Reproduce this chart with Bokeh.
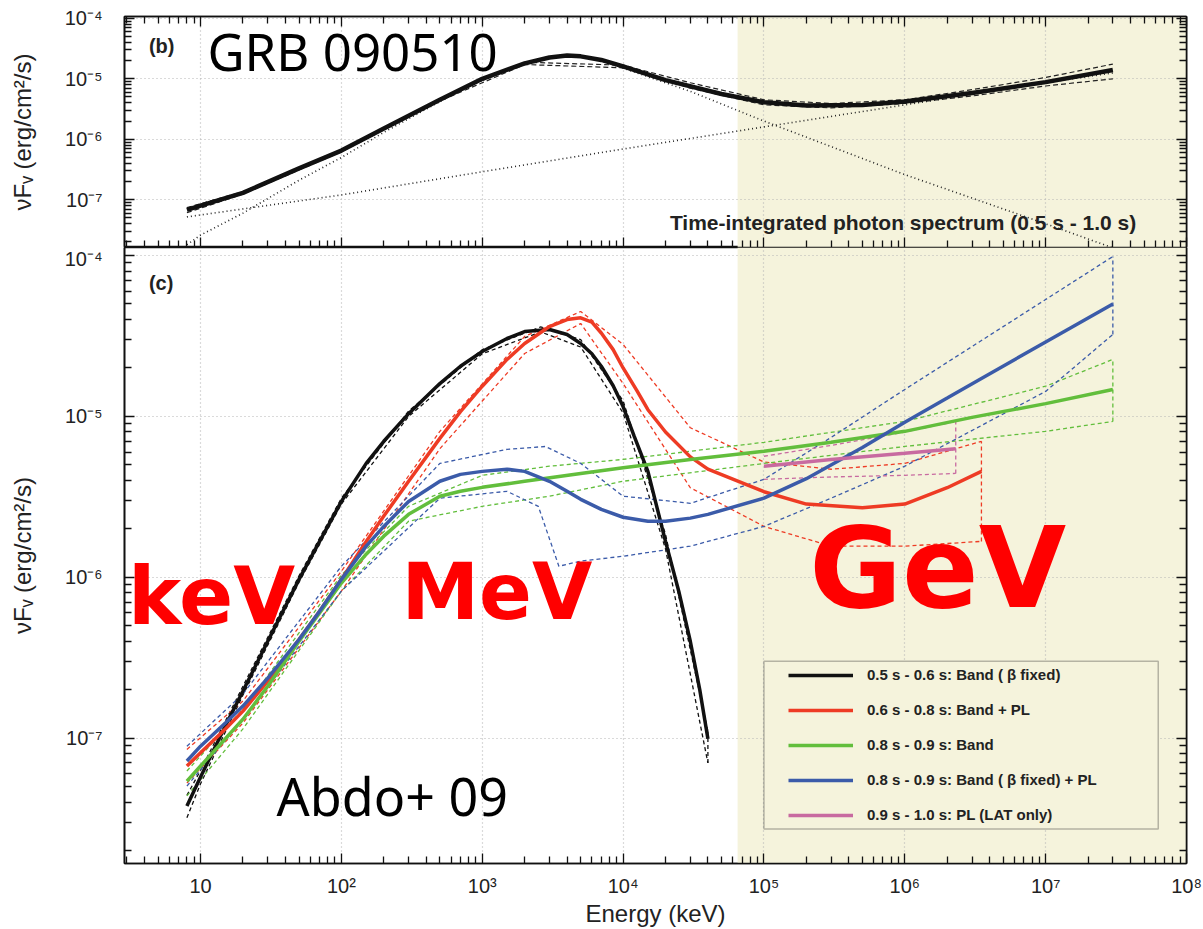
from bokeh.plotting import figure
from bokeh.layouts import column
from bokeh.models import (Range1d, LogAxis, FixedTicker, CustomJSTickFormatter,
                          BoxAnnotation, Label, Legend, LegendItem)
from bokeh.embed import file_html
from bokeh.resources import INLINE

# ---------------- tick labels ----------------
x_major = [1e1, 1e2, 1e3, 1e4, 1e5, 1e6, 1e7, 1e8]
x_tick_labels = ["10", "10²", "10³", "10⁴", "10⁵", "10⁶", "10⁷", "10⁸"]
y_major = [1e-7, 1e-6, 1e-5, 1e-4]
y_tick_labels = ["10⁻⁷", "10⁻⁶", "10⁻⁵", "10⁻⁴"]

# ---------------- panel (b): time-integrated spectrum ----------------
b_energy = [8, 10, 20, 50, 100, 200, 500, 1000, 2000, 3000, 4000, 5000, 7000, 1e4, 2e4,
            5e4, 1e5, 2e5, 5e5, 1e6, 3e6, 1e7, 3e7]
b_total = [6.8e-8, 8.0e-8, 1.3e-7, 3.3e-7, 6.5e-7, 1.5e-6, 4.5e-6, 1.0e-5, 1.8e-5,
           2.25e-5, 2.42e-5, 2.35e-5, 2.05e-5, 1.6e-5, 9.5e-6, 5.6e-6, 4.1e-6, 3.6e-6,
           3.7e-6, 4.2e-6, 5.8e-6, 8.8e-6, 1.4e-5]
b_err_energy = [8, 20, 100, 500, 2000, 1e4, 3e4, 1e5, 3e5, 1e6, 3e6, 1e7, 3e7]
b_upper = [7.4e-8, 1.36e-7, 6.8e-7, 4.7e-6, 1.88e-5, 1.68e-5, 8.6e-6, 4.5e-6, 3.9e-6,
           4.5e-6, 6.6e-6, 1.05e-5, 1.75e-5]
b_lower = [6.1e-8, 1.24e-7, 6.2e-7, 4.3e-6, 1.72e-5, 1.52e-5, 7.0e-6, 3.7e-6, 3.3e-6,
           3.9e-6, 5.2e-6, 7.6e-6, 1.0e-5]
b_pl_energy = [8, 100, 1e3, 1e4, 1e5, 1e6, 1e7, 3e7]
b_pl = [5.2e-8, 1.2e-7, 2.9e-7, 6.9e-7, 1.6e-6, 3.7e-6, 8.6e-6, 1.25e-5]
b_band_energy = [8, 10, 20, 50, 100, 200, 500, 1000, 2000, 3000, 4000, 5000, 7000, 1e4,
                 3e4, 1e5, 1e6, 1e7, 3e7]
b_band = [1.8e-8, 2.6e-8, 6.0e-8, 2.1e-7, 5.0e-7, 1.3e-6, 4.2e-6, 9.6e-6, 1.75e-5,
          2.2e-5, 2.38e-5, 2.3e-5, 2.0e-5, 1.5e-5, 6.2e-6, 2.0e-6, 2.6e-7, 4.0e-8, 1.6e-8]

# ---------------- panel (c): time-resolved spectra ----------------
black_energy = [8, 10, 15, 20, 30, 50, 70, 100, 150, 200, 300, 500, 700, 1000, 1500,
                2000, 3000, 4000, 5000, 6000, 7000, 8500, 1e4, 1.2e4, 1.5e4, 2e4, 2.5e4,
                3e4, 3.5e4, 4e4]
black_flux = [3.78e-8, 5.73e-8, 1.19e-7, 1.96e-7, 4.0e-7, 9.7e-7, 1.67e-6, 2.96e-6,
              5.1e-6, 7.0e-6, 1.04e-5, 1.6e-5, 2.05e-5, 2.53e-5, 3.05e-5, 3.37e-5,
              3.47e-5, 3.23e-5, 2.84e-5, 2.45e-5, 2.05e-5, 1.55e-5, 1.15e-5, 7.5e-6,
              4.55e-6, 1.67e-6, 8.0e-7, 4.0e-7, 2.0e-7, 9.9e-8]
black_err_energy = [8, 10, 20, 50, 100, 300, 1000, 2600, 5000, 1e4, 2e4, 4e4]
black_upper = [4.4e-8, 6.3e-8, 2.1e-7, 1.02e-6, 3.1e-6, 1.08e-5, 2.6e-5, 3.6e-5, 3.0e-5,
               1.25e-5, 1.85e-6, 1.1e-7]
black_lower = [3.2e-8, 5.2e-8, 1.85e-7, 9.3e-7, 2.85e-6, 1.0e-5, 2.45e-5, 3.35e-5, 2.7e-5,
               1.05e-5, 1.5e-6, 7.0e-8]

red_energy = [8, 10, 15, 20, 30, 50, 70, 100, 150, 200, 300, 500, 700, 1000, 1500, 2000,
              3000, 4000, 5000, 6000, 7000, 8500, 1e4, 1.25e4, 1.5e4, 2e4, 3e4, 4e4, 1e5,
              2e5, 5e5, 1e6, 2e6, 3.5e6]
red_flux = [6.7e-8, 8.1e-8, 1.14e-7, 1.47e-7, 2.26e-7, 4.1e-7, 6.15e-7, 9.7e-7, 1.67e-6,
            2.4e-6, 3.95e-6, 7.3e-6, 1.07e-5, 1.54e-5, 2.26e-5, 2.84e-5, 3.62e-5, 4.0e-5,
            4.1e-5, 3.85e-5, 3.3e-5, 2.6e-5, 2.0e-5, 1.45e-5, 1.1e-5, 8.0e-6, 5.6e-6,
            4.7e-6, 3.4e-6, 2.85e-6, 2.7e-6, 2.85e-6, 3.6e-6, 4.55e-6]
red_err_energy = [8, 20, 100, 500, 2000, 5000, 1e4, 3e4, 1e5, 3e5, 1e6, 3.5e6]
red_upper = [8.5e-8, 1.7e-7, 1.09e-6, 8.07e-6, 3.14e-5, 4.49e-5, 2.8e-5, 8.5e-6,
             5.2e-6, 4.69e-6, 5.1e-6, 7.0e-6]
red_lower = [5.25e-8, 1.24e-7, 8.2e-7, 6.3e-6, 2.46e-5, 3.78e-5, 1.6e-5, 3.6e-6,
             2.07e-6, 1.56e-6, 1.56e-6, 1.67e-6]

green_energy = [8, 10, 15, 20, 30, 50, 70, 100, 150, 200, 300, 500, 700, 1000, 2000, 5000,
                1e4, 3e4, 1e5, 3e5, 1e6, 3e6, 1e7, 3e7]
green_flux = [5.4e-8, 6.7e-8, 9.9e-8, 1.31e-7, 2.1e-7, 4.0e-7, 6.0e-7, 9.2e-7, 1.39e-6,
              1.8e-6, 2.46e-6, 3.19e-6, 3.42e-6, 3.62e-6, 3.95e-6, 4.42e-6, 4.8e-6, 5.4e-6,
              6.07e-6, 6.9e-6, 8.07e-6, 9.86e-6, 1.2e-5, 1.47e-5]
green_err_energy = [8, 20, 100, 300, 1000, 3000, 1e4, 1e5, 1e6, 1e7, 3e7]
green_upper = [6.24e-8, 1.51e-7, 1.03e-6, 2.76e-6, 4.3e-6, 4.9e-6, 5.4e-6, 6.9e-6, 9.3e-6,
               1.54e-5, 2.26e-5]
green_lower = [4.37e-8, 1.14e-7, 8.2e-7, 2.23e-6, 2.76e-6, 3.19e-6, 3.95e-6, 5.1e-6,
               6.5e-6, 8.07e-6, 9.3e-6]

blue_energy = [8, 10, 15, 20, 30, 50, 70, 100, 150, 200, 300, 500, 700, 1000, 1500, 2000,
               3000, 4000, 5000, 7000, 1e4, 1.5e4, 2e4, 3e4, 4e4, 1e5, 2e5, 5e5, 1e6, 2e6,
               3.5e6, 1e7, 3e7]
blue_flux = [7.2e-8, 8.9e-8, 1.24e-7, 1.58e-7, 2.36e-7, 4.1e-7, 6.15e-7, 9.7e-7, 1.56e-6,
             2.07e-6, 2.96e-6, 3.95e-6, 4.36e-6, 4.55e-6, 4.69e-6, 4.55e-6, 3.95e-6,
             3.42e-6, 3.05e-6, 2.64e-6, 2.36e-6, 2.23e-6, 2.23e-6, 2.33e-6, 2.46e-6,
             3.1e-6, 4.1e-6, 6.4e-6, 9.2e-6, 1.3e-5, 1.72e-5, 2.9e-5, 5.0e-5]
blue_up_energy = [8, 20, 100, 500, 1500, 2800, 5000, 1e4, 3e4, 1e5, 3e5, 1e6, 1e7, 3e7]
blue_upper = [8.9e-8, 1.88e-7, 1.17e-6, 5.1e-6, 6.24e-6, 6.5e-6, 5.1e-6, 3.19e-6, 2.88e-6,
              4.06e-6, 7.4e-6, 1.47e-5, 5.33e-5, 9.86e-5]
blue_lo_energy = [8, 20, 100, 500, 1500, 2500, 3500, 5000, 1e4, 3e4, 1e5, 3e5, 1e6, 1e7, 3e7]
blue_lower = [5.03e-8, 1.31e-7, 8.2e-7, 3.1e-6, 3.42e-6, 2.76e-6, 1.17e-6, 1.26e-6,
              1.35e-6, 1.56e-6, 2.07e-6, 3.1e-6, 4.9e-6, 1.43e-5, 3.23e-5]

pink_energy = [1e5, 3e5, 1e6, 2.3e6]
pink_flux = [4.9e-6, 5.4e-6, 5.9e-6, 6.3e-6]
pink_upper = [5.65e-6, 6.6e-6, 8.0e-6, 9.3e-6]
pink_lower = [4.06e-6, 4.2e-6, 4.3e-6, 4.42e-6]

legend_labels = ["0.5 s - 0.6 s: Band ( β fixed)",
                 "0.6 s - 0.8 s: Band + PL",
                 "0.8 s - 0.9 s: Band",
                 "0.8 s - 0.9 s: Band ( β fixed) + PL",
                 "0.9 s - 1.0 s: PL (LAT only)"]

# ---------------- styling ----------------
BLACK, RED, GREEN, BLUE, PINK = "#111111", "#ee3b24", "#62be3c", "#3b5ba9", "#c86aa0"
SHADE = "#f5f3dc"
TXT = "#222222"
X_RANGE = (10 ** 0.46, 1e8)
B_YRANGE = (10 ** -7.79, 10 ** -3.97)
C_YRANGE = (10 ** -7.78, 10 ** -3.95)
LAT_START = 6.5e4

x_minor = [m * 10.0 ** k for k in range(0, 8) for m in range(2, 10)]
y_minor = [m * 10.0 ** k for k in range(-8, -3) for m in range(2, 10)]

JS = """
const lt = Math.log10(tick);
for (let i = 0; i < vals.length; i++) {
  if (Math.abs(Math.log10(vals[i]) - lt) < 1e-6) { return labels[i]; }
}
return "";
"""


def fmt(vals, labels):
    return CustomJSTickFormatter(args=dict(vals=vals, labels=labels), code=JS)


def style_axis(ax, dim, show_labels):
    if dim == "x":
        ax.ticker = FixedTicker(ticks=x_major, minor_ticks=x_minor)
        vals, labs = x_major, x_tick_labels
    else:
        ax.ticker = FixedTicker(ticks=y_major, minor_ticks=y_minor)
        vals, labs = y_major, y_tick_labels
    ax.major_tick_in = 10
    ax.major_tick_out = 0
    ax.minor_tick_in = 7
    ax.minor_tick_out = 0
    ax.axis_line_color = "#111111"
    ax.axis_line_width = 1.6
    ax.major_tick_line_color = "#111111"
    ax.major_tick_line_width = 1.3
    ax.minor_tick_line_color = "#111111"
    ax.minor_tick_line_width = 1.3
    if show_labels:
        ax.formatter = fmt(vals, labs)
        ax.major_label_text_font = "Liberation Sans"
        ax.major_label_text_font_size = "20px"
        ax.major_label_text_color = TXT
    else:
        ax.formatter = fmt(vals, ["" for _ in labs])
        ax.major_label_text_font_size = "0px"
        ax.major_label_standoff = 0


def make_fig(h, yr, top, bottom):
    p = figure(width=1203, height=h, x_axis_type="log", y_axis_type="log",
               x_range=Range1d(*X_RANGE), y_range=Range1d(*yr),
               output_backend="svg", toolbar_location=None,
               min_border_left=124, min_border_right=17,
               min_border_top=top, min_border_bottom=bottom,
               background_fill_color="white", border_fill_color="white",
               outline_line_color="#111111", outline_line_width=1.6)
    p.add_layout(BoxAnnotation(left=LAT_START, fill_color=SHADE, fill_alpha=1.0,
                               line_alpha=0, level="image"))
    for g in p.grid:
        g.grid_line_color = "#b5b5b5"
        g.grid_line_dash = "1 3"
        g.grid_line_width = 1.2
    p.xgrid.ticker = FixedTicker(ticks=x_major)
    p.ygrid.ticker = FixedTicker(ticks=y_major)
    left = p.yaxis[0]
    style_axis(left, "y", True)
    left.axis_label = "νFᵥ (erg/cm²/s)"
    left.axis_label_text_font = "Liberation Sans"
    left.axis_label_text_font_size = "24px"
    left.axis_label_text_font_style = "normal"
    left.axis_label_text_color = TXT
    left.major_label_standoff = 22
    left.axis_label_standoff = 26
    right = LogAxis()
    style_axis(right, "y", False)
    p.add_layout(right, "right")
    return p


# ---------------- panel (b) ----------------
p1 = make_fig(247, B_YRANGE, 16, 0)
style_axis(p1.xaxis[0], "x", False)
above = LogAxis()
style_axis(above, "x", False)
p1.add_layout(above, "above")

p1.line(b_pl_energy, b_pl, line_color="#222222", line_width=1.6, line_dash="1 3")
p1.line(b_band_energy, b_band, line_color="#222222", line_width=1.6, line_dash="1 3")
p1.line(b_err_energy, b_upper, line_color="#222222", line_width=1.2, line_dash="5 3")
p1.line(b_err_energy, b_lower, line_color="#222222", line_width=1.2, line_dash="5 3")
p1.line(b_energy, b_total, line_color=BLACK, line_width=4.5)

p1.add_layout(Label(x=4.3, y=10 ** -4.46, text="(b)", text_font="Liberation Sans",
                    text_font_size="20px", text_font_style="bold", text_color=TXT,
                    text_baseline="middle"))
p1.add_layout(Label(x=11.2, y=10 ** -4.54, text="GRB 090510", text_font="Noto Sans",
                    text_font_size="51px", text_color="#000000", text_baseline="middle"))
p1.add_layout(Label(x=4.4e7, y=10 ** -7.38, text="Time-integrated photon spectrum (0.5 s - 1.0 s)",
                    text_font="Liberation Sans", text_font_size="21px", text_font_style="bold",
                    text_color=TXT, text_align="right", text_baseline="middle"))

# ---------------- panel (c) ----------------
p2 = make_fig(682, C_YRANGE, 0, 66)
bx = p2.xaxis[0]
style_axis(bx, "x", True)
bx.axis_label = "Energy (keV)"
bx.axis_label_text_font = "Liberation Sans"
bx.axis_label_text_font_size = "24px"
bx.axis_label_text_font_style = "normal"
bx.axis_label_text_color = TXT
bx.major_label_standoff = 11
bx.axis_label_standoff = 0

series = [
    (black_energy, black_flux, black_err_energy, black_upper, black_err_energy, black_lower, BLACK),
    (red_energy, red_flux, red_err_energy, red_upper, red_err_energy, red_lower, RED),
    (green_energy, green_flux, green_err_energy, green_upper, green_err_energy, green_lower, GREEN),
    (blue_energy, blue_flux, blue_up_energy, blue_upper, blue_lo_energy, blue_lower, BLUE),
    (pink_energy, pink_flux, pink_energy, pink_upper, pink_energy, pink_lower, PINK),
]
for (_, _, eu, up, el, lo, col) in series:
    p2.line(eu, up, line_color=col, line_width=1.3, line_dash="4 3")
    p2.line(el, lo, line_color=col, line_width=1.3, line_dash="4 3")
    p2.segment(x0=[el[-1]], y0=[lo[-1]], x1=[eu[-1]], y1=[up[-1]],
               line_color=col, line_width=1.3, line_dash="4 3")

solid = []
for (e, f, _, _, _, _, col) in series:
    solid.append(p2.line(e, f, line_color=col, line_width=3.5))

p2.add_layout(Label(x=4.3, y=10 ** -4.17, text="(c)", text_font="Liberation Sans",
                    text_font_size="20px", text_font_style="bold", text_color=TXT,
                    text_baseline="middle"))
p2.add_layout(Label(x=34.6, y=10 ** -7.578, text="Abdo+ 09", text_font="Noto Sans",
                    text_font_size="52px", text_color="#000000"))
p2.add_layout(Label(x=3.05, y=10 ** -6.41, text="keV", text_font="DejaVu Sans",
                    text_font_size="80px", text_font_style="bold", text_color="#ff0000"))
p2.add_layout(Label(x=267, y=10 ** -6.373, text="MeV", text_font="DejaVu Sans",
                    text_font_size="78px", text_font_style="bold", text_color="#ff0000"))
p2.add_layout(Label(x=2.1e5, y=10 ** -6.35, text="GeV", text_font="DejaVu Sans",
                    text_font_size="113px", text_font_style="bold", text_color="#ff0000"))

# legend frame
p2.add_layout(BoxAnnotation(left=1e5, right=6.3e7, bottom=2.72e-8, top=3.0e-7,
                            fill_color=SHADE, fill_alpha=1.0, line_color="#222222",
                            line_width=1.5))
legend = Legend(items=[LegendItem(label=lab, renderers=[r]) for lab, r in zip(legend_labels, solid)],
                location=(656, 32), orientation="vertical",
                background_fill_alpha=0, border_line_alpha=0,
                padding=8, spacing=18, margin=0,
                glyph_width=65, glyph_height=12, label_height=12, label_standoff=14,
                label_text_font="Liberation Sans", label_text_font_size="15px",
                label_text_font_style="bold", label_text_color=TXT)
p2.add_layout(legend)

layout = column(p1, p2, spacing=0)
open("out.html", "w").write(file_html(layout, INLINE))
